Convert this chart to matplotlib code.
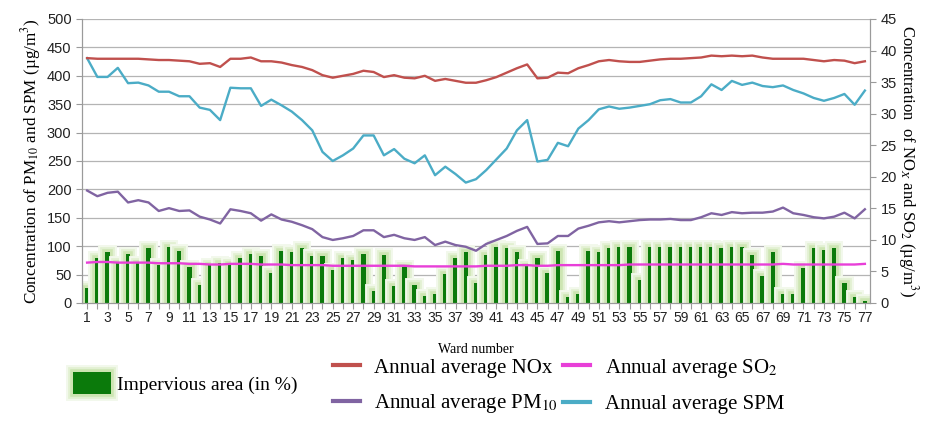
import matplotlib
matplotlib.use("Agg")
import matplotlib.pyplot as plt
import matplotlib.patheffects as pe
from matplotlib.patches import Patch
from matplotlib.lines import Line2D
import numpy as np

wards = list(range(1, 78))

impervious = [27, 79, 89, 70, 87, 71, 96, 67, 98, 92,
              63, 32, 67, 71, 68, 79, 87, 83, 53, 92,
              89, 96, 83, 83, 58, 79, 76, 87, 22, 84,
              30, 64, 32, 12, 15, 51, 79, 89, 36, 84,
              98, 96, 89, 66, 80, 53, 91, 11, 15, 92,
              89, 96, 98, 98, 40, 98, 98, 98, 98, 98,
              98, 98, 96, 98, 98, 84, 48, 89, 16, 16,
              61, 96, 94, 96, 36, 11, 4]

spm = [431, 398, 398, 414, 387, 388, 383, 372, 372, 364,
       364, 344, 340, 322, 379, 378, 378, 347, 358, 348,
       337, 322, 304, 266, 250, 260, 272, 295, 295, 260,
       271, 254, 246, 260, 225, 240, 227, 212, 218, 234,
       253, 272, 304, 322, 249, 252, 282, 276, 307, 322,
       341, 346, 342, 344, 347, 350, 357, 359, 353, 353,
       364, 385, 375, 391, 384, 388, 382, 380, 383, 375,
       369, 361, 356, 361, 368, 349, 374]

pm10 = [198, 188, 194, 196, 177, 181, 177, 162, 167, 162,
        163, 152, 147, 140, 165, 162, 158, 145, 156, 147,
        143, 137, 130, 116, 111, 114, 118, 128, 128, 116,
        120, 114, 111, 116, 102, 108, 102, 99, 92, 104,
        111, 118, 127, 134, 104, 105, 118, 118, 131, 136,
        142, 144, 142, 144, 146, 147, 147, 148, 146, 146,
        151, 158, 155, 160, 158, 159, 159, 161, 168, 158,
        155, 151, 149, 152, 159, 149, 165]

nox = [38.8, 38.7, 38.7, 38.7, 38.7, 38.7, 38.6, 38.5, 38.5, 38.4,
       38.3, 37.9, 38.0, 37.4, 38.7, 38.7, 38.9, 38.3, 38.3, 38.1,
       37.7, 37.4, 36.9, 36.1, 35.7, 36.0, 36.3, 36.8, 36.6, 35.8,
       36.1, 35.7, 35.6, 36.0, 35.2, 35.5, 35.2, 34.9, 34.9, 35.3,
       35.8, 36.5, 37.2, 37.8, 35.6, 35.7, 36.5, 36.4, 37.2, 37.7,
       38.3, 38.5, 38.3, 38.2, 38.2, 38.4, 38.6, 38.7, 38.7, 38.8,
       38.9, 39.2, 39.1, 39.2, 39.1, 39.2, 38.9, 38.7, 38.7, 38.7,
       38.7, 38.5, 38.3, 38.5, 38.4, 38.0, 38.3]

so2 = [6.4, 6.5, 6.5, 6.4, 6.4, 6.4, 6.4, 6.3, 6.3, 6.3,
       6.2, 6.2, 6.1, 6.1, 6.2, 6.2, 6.2, 6.1, 6.1, 6.1,
       6.0, 6.0, 6.0, 6.0, 5.9, 5.9, 5.9, 5.9, 5.9, 5.9,
       5.9, 5.9, 5.8, 5.8, 5.8, 5.8, 5.8, 5.8, 5.8, 5.9,
       5.9, 5.9, 6.0, 6.0, 5.9, 5.9, 6.0, 6.0, 6.0, 6.0,
       6.0, 6.0, 6.0, 6.1, 6.1, 6.1, 6.1, 6.1, 6.1, 6.1,
       6.1, 6.1, 6.1, 6.1, 6.1, 6.1, 6.1, 6.1, 6.2, 6.1,
       6.1, 6.1, 6.1, 6.1, 6.1, 6.1, 6.2]

left_ticks = list(range(0, 501, 50))
right_ticks = list(range(0, 46, 5))
xtick_labels = [str(w) if w % 2 == 1 else "" for w in wards]

plt.rcParams['mathtext.fontset'] = 'stix'
SANS = 'Liberation Sans'
SERIF = 'Liberation Serif'

C_NOX = '#c0504d'
C_PM10 = '#8064a2'
C_SO2 = '#e83fd8'
C_SPM = '#4bacc6'
C_BAR = '#0b7a0b'
GLOW = [pe.Stroke(linewidth=10, foreground='#f2f8eb'),
        pe.Stroke(linewidth=7, foreground='#e2f0d2'),
        pe.Stroke(linewidth=4, foreground='#cde5b2'),
        pe.Normal()]

fig = plt.figure(figsize=(9.27, 4.26), dpi=100)
ax = fig.add_axes([82/927, 1-303/426, 788/927, 284/426])
ax2 = ax.twinx()

bars = ax.bar(wards, impervious, width=0.42, color=C_BAR, linewidth=0, zorder=2)
for b in bars:
    b.set_path_effects(GLOW)

ax.plot(wards, spm, color=C_SPM, lw=1.7, zorder=3)
ax.plot(wards, pm10, color=C_PM10, lw=1.7, zorder=3)
ax2.plot(wards, nox, color=C_NOX, lw=1.7)
ax2.plot(wards, so2, color=C_SO2, lw=1.7)

ax.set_xlim(0.5, 77.5)
ax.set_ylim(0, 500)
ax2.set_ylim(0, 45)
ax.set_yticks(left_ticks)
ax2.set_yticks(right_ticks)
ax.set_xticks(wards)
ax.set_xticklabels(xtick_labels)

ax.set_axisbelow(True)
ax.yaxis.grid(True, color='#b4b4b4', lw=0.9)
for a in (ax, ax2):
    for s in a.spines.values():
        s.set_color('#9a9a9a')
    a.spines['top'].set_visible(False)
ax.tick_params(axis='both', colors='#9a9a9a', length=4, direction='out')
ax2.tick_params(axis='y', colors='#9a9a9a', length=4, direction='out')
for lab in ax.get_xticklabels():
    lab.set_fontfamily(SANS); lab.set_fontsize(10); lab.set_color('#222222')
for lab in ax.get_yticklabels():
    lab.set_fontfamily(SANS); lab.set_fontsize(10.5); lab.set_color('#222222')
for lab in ax2.get_yticklabels():
    lab.set_fontfamily(SANS); lab.set_fontsize(10.5); lab.set_color('#222222')
ax.tick_params(axis='x', pad=2)

ax.set_ylabel('Concentration of PM$_{10}$ and SPM (\u00b5g/m$^3$)',
              fontsize=12.3, labelpad=3)
ax.yaxis.label.set_fontfamily(SERIF)
ax2.set_ylabel('Concentration  of NO$_X$ and SO$_2$ (\u00b5g/m$^3$)',
               fontsize=12, rotation=270, labelpad=17)
ax2.yaxis.label.set_fontfamily(SERIF)
ax.set_xlabel('Ward number', fontsize=10, labelpad=13)
ax.xaxis.label.set_fontfamily(SERIF)

# legends
bar_handle = Patch(facecolor=C_BAR, edgecolor='none', path_effects=GLOW)
leg1 = fig.legend([bar_handle], ['Impervious area (in %)'],
                  loc='center left', bbox_to_anchor=(55/927, 1-383/426),
                  frameon=False, handlelength=2.0, handleheight=1.3,
                  handletextpad=0.3, prop={'family': SERIF, 'size': 14})
line_handles = [Line2D([], [], color=C_NOX, lw=3),
                Line2D([], [], color=C_PM10, lw=3),
                Line2D([], [], color=C_SO2, lw=3),
                Line2D([], [], color=C_SPM, lw=3)]
line_labels = ['Annual average NOx', 'Annual average PM$_{10}$',
               'Annual average SO$_2$', 'Annual average SPM']
leg2 = fig.legend(line_handles, line_labels, ncol=2,
                  loc='center left', bbox_to_anchor=(314/927, 1-386/426),
                  frameon=False, handlelength=1.3, handletextpad=0.7,
                  columnspacing=0.25, labelspacing=0.7,
                  prop={'family': SERIF, 'size': 15})

fig.savefig('out.png', dpi=100)
